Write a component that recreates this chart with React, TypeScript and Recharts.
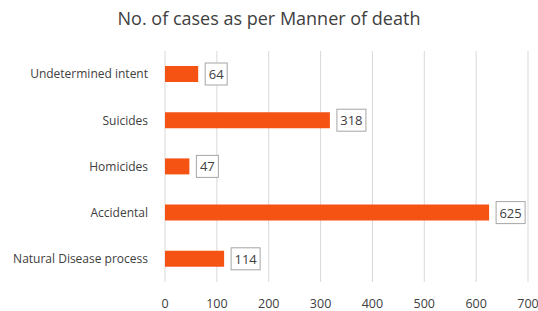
import { BarChart, Bar, XAxis, YAxis, CartesianGrid, LabelList } from "recharts";

const categories = [
  "Undetermined intent",
  "Suicides",
  "Homicides",
  "Accidental",
  "Natural Disease process",
];
const cases = [64, 318, 47, 625, 114];
const xTicks = [0, 100, 200, 300, 400, 500, 600, 700];

const data = categories.map((name, i) => ({ name, cases: cases[i] }));

const FONT = "'Open Sans', sans-serif";

function BoxLabel(props: any) {
  const { x, y, width, height, value } = props;
  const text = String(value);
  const w = text.length * 7 + 8;
  const bx = x + width + 7;
  const cy = y + height / 2;
  return (
    <g>
      <rect
        x={bx}
        y={cy - 11}
        width={w}
        height={22}
        fill="#fff"
        stroke="#a6a6a6"
        strokeWidth={1}
      />
      <text
        x={bx + w / 2}
        y={cy}
        textAnchor="middle"
        dominantBaseline="central"
        fontSize={13}
        fontFamily={FONT}
        fill="#404040"
      >
        {text}
      </text>
    </g>
  );
}

export default function App() {
  return (
    <div style={{ position: "absolute", left: 0, top: 0, width: 538, height: 311, background: "#fff" }}>
      <div
        style={{
          position: "absolute",
          top: 6,
          left: 0,
          width: 538,
          textAlign: "center",
          fontFamily: FONT,
          fontSize: 18,
          color: "#404040",
        }}
      >
        No. of cases as per Manner of death
      </div>
      <BarChart
        width={538}
        height={311}
        data={data}
        layout="vertical"
        margin={{ top: 51, right: 10, bottom: 5, left: 0 }}
      >
        <CartesianGrid horizontal={false} stroke="#d9d9d9" />
        <XAxis
          type="number"
          domain={[0, 700]}
          ticks={xTicks}
          axisLine={false}
          tickLine={false}
          tickSize={6}
          tickMargin={11}
          height={24}
          interval={0}
          tick={{ fontSize: 12.5, fontFamily: FONT, fill: "#404040" }}
        />
        <YAxis
          type="category"
          dataKey="name"
          width={165}
          axisLine={false}
          tickLine={false}
          tickSize={0}
          tickMargin={17}
          interval={0}
          tick={{ fontSize: 12, fontFamily: FONT, fill: "#404040" }}
        />
        <Bar dataKey="cases" fill="#f55314" barSize={16} isAnimationActive={false}>
          <LabelList dataKey="cases" content={BoxLabel} />
        </Bar>
      </BarChart>
    </div>
  );
}
